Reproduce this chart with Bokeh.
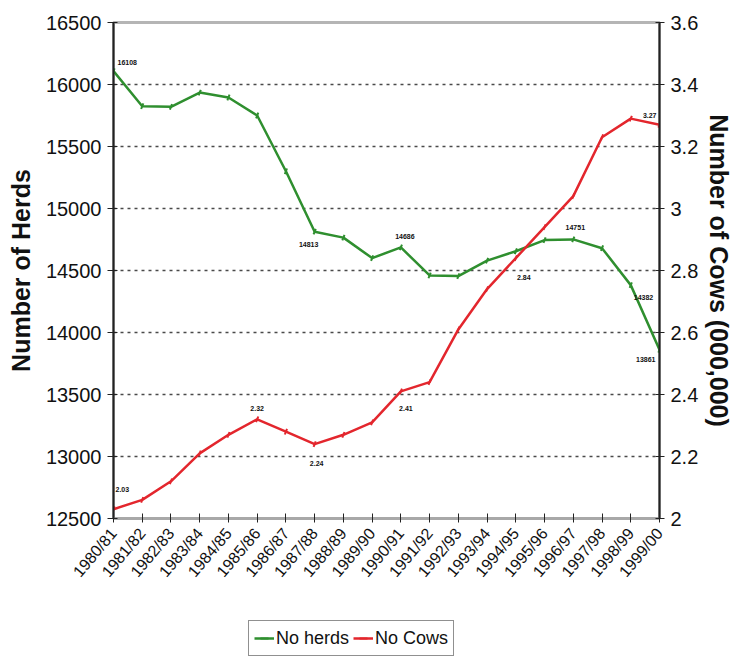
from bokeh.plotting import figure
from bokeh.layouts import column
from bokeh.models import (Range1d, LinearAxis, FixedTicker, Legend, LegendItem,
                          ColumnDataSource, Label)
from bokeh.embed import file_html
from bokeh.resources import INLINE

# Dairy herds and cow numbers by season
seasons = ["1980/81", "1981/82", "1982/83", "1983/84", "1984/85", "1985/86",
           "1986/87", "1987/88", "1988/89", "1989/90", "1990/91", "1991/92",
           "1992/93", "1993/94", "1994/95", "1995/96", "1996/97", "1997/98",
           "1998/99", "1999/00"]
herds = [16108, 15825, 15820, 15935, 15895, 15750, 15300, 14813, 14765, 14600,
         14686, 14460, 14455, 14580, 14655, 14745, 14751, 14680, 14382, 13861]
cows = [2.03, 2.06, 2.12, 2.21, 2.27, 2.32, 2.28, 2.24, 2.27, 2.31,
        2.41, 2.44, 2.61, 2.74, 2.84, 2.94, 3.04, 3.23, 3.29, 3.27]

herd_ticks = [12500, 13000, 13500, 14000, 14500, 15000, 15500, 16000, 16500]
cow_ticks = [2.0, 2.2, 2.4, 2.6, 2.8, 3.0, 3.2, 3.4, 3.6]

# seasons that carry a value label, with (x offset, y offset, align)
herd_labels = {0: (4, 9, "left"), 7: (-6, -13, "center"), 10: (4, 11, "center"),
               16: (2, 12, "center"), 18: (3, -12, "left"), 19: (-4, -10, "right")}
cow_labels = {0: (2, 20, "left"), 5: (0, 11, "center"), 7: (2, -19, "center"),
              10: (5, -17, "center"), 14: (8, -19, "center"), 19: (-3, 9, "right")}

FONT = "Liberation Sans"
GREEN = "#2f8f2f"
RED = "#e3262d"

x = list(range(len(seasons)))

p = figure(width=736, height=612, output_backend="svg", toolbar_location=None,
           x_range=Range1d(0, len(seasons) - 1), y_range=Range1d(12500, 16500),
           min_border_left=113, min_border_right=70, min_border_top=22,
           min_border_bottom=94)
p.extra_y_ranges = {"cows": Range1d(2.0, 3.6)}
p.background_fill_color = "white"
p.border_fill_color = "white"
p.outline_line_color = "#b5b5b5"
p.outline_line_width = 3

# x axis (seasons)
p.xaxis.ticker = FixedTicker(ticks=x)
p.xaxis.major_label_overrides = {i: s for i, s in enumerate(seasons)}
p.xaxis.major_label_orientation = 0.87
p.xaxis.major_label_text_font = FONT
p.xaxis.major_label_text_font_size = "16px"
p.xaxis.major_label_text_color = "#111111"
p.xaxis.axis_line_color = "#a8a8a8"
p.xaxis.axis_line_width = 3
p.xaxis.major_tick_line_color = "#222222"
p.xaxis.major_tick_in = 5
p.xaxis.major_tick_out = 4
p.xaxis.minor_tick_line_color = None
p.xaxis.major_label_standoff = 8

# left axis: herds
p.yaxis.ticker = FixedTicker(ticks=herd_ticks)
p.yaxis.axis_label = "Number of Herds"
p.yaxis.axis_label_text_font = FONT
p.yaxis.axis_label_text_font_style = "bold"
p.yaxis.axis_label_text_font_size = "25px"
p.yaxis.axis_label_text_color = "#111111"
p.yaxis.axis_label_standoff = 8
p.yaxis.major_label_text_font = FONT
p.yaxis.major_label_text_font_size = "20px"
p.yaxis.major_label_text_color = "#111111"
p.yaxis.major_label_standoff = 6
p.yaxis.axis_line_color = "#222222"
p.yaxis.axis_line_width = 2
p.yaxis.major_tick_line_color = "#222222"
p.yaxis.major_tick_in = 4
p.yaxis.major_tick_out = 6
p.yaxis.minor_tick_line_color = None

# right axis: cows
cow_axis = LinearAxis(y_range_name="cows", ticker=FixedTicker(ticks=cow_ticks),
                      axis_label="Number of Cows (000,000)")
cow_axis.major_label_overrides = {2.0: "2", 3.0: "3"}
cow_axis.axis_label_text_font = FONT
cow_axis.axis_label_text_font_style = "bold"
cow_axis.axis_label_text_font_size = "25px"
cow_axis.axis_label_text_color = "#111111"
cow_axis.axis_label_standoff = 4
cow_axis.major_label_text_font = FONT
cow_axis.major_label_text_font_size = "20px"
cow_axis.major_label_text_color = "#111111"
cow_axis.major_label_standoff = 6
cow_axis.axis_line_color = "#222222"
cow_axis.axis_line_width = 2
cow_axis.major_tick_line_color = "#222222"
cow_axis.major_tick_in = 4
cow_axis.major_tick_out = 5
cow_axis.minor_tick_line_color = None
p.add_layout(cow_axis, "right")

# dotted grid
p.xgrid.grid_line_color = None
p.ygrid.grid_line_color = "#4a4a4a"
p.ygrid.grid_line_dash = "3 4"
p.ygrid.grid_line_width = 1.5

src = ColumnDataSource(dict(x=x, herds=herds, cows=cows))

p.line("x", "herds", source=src, color=GREEN, line_width=2.5)
p.scatter("x", "herds", source=src, marker="dash", size=6,
          color=GREEN, line_width=2, angle=1.2)
p.line("x", "cows", source=src, color=RED, line_width=2.5, y_range_name="cows")
p.scatter("x", "cows", source=src, marker="dash", size=6, color=RED,
          line_width=2, angle=1.2, y_range_name="cows")

# value labels
for series, labels, rng in ((herds, herd_labels, "default"),
                            (cows, cow_labels, "cows")):
    for i, (dx, dy, align) in labels.items():
        v = series[i]
        txt = f"{v:.0f}" if rng == "default" else f"{v:.2f}"
        p.add_layout(Label(x=i, y=v, text=txt, x_offset=dx, y_offset=dy,
                           y_range_name=rng, text_font=FONT,
                           text_font_size="7px", text_font_style="bold",
                           text_color="#111111", text_align=align,
                           text_baseline="middle"))

# legend strip under the chart; its series glyphs sit outside the visible range
lf = figure(width=736, height=45, output_backend="svg", toolbar_location=None,
            x_axis_location=None, y_axis_location=None, min_border=0,
            x_range=Range1d(0, 1), y_range=Range1d(0, 1))
lf.outline_line_color = None
lf.grid.grid_line_color = None
off = ColumnDataSource(dict(x=[5, 6], y=[5, 5]))
lg_herd = lf.line("x", "y", source=off, color=GREEN, line_width=2.5)
lg_herd_pt = lf.scatter("x", "y", source=off, marker="dash", size=6,
                        color=GREEN, line_width=2, angle=1.2)
lg_cow = lf.line("x", "y", source=off, color=RED, line_width=2.5)
lg_cow_pt = lf.scatter("x", "y", source=off, marker="dash", size=6, color=RED,
                       line_width=2, angle=1.2)

legend = Legend(items=[LegendItem(label="No herds", renderers=[lg_herd, lg_herd_pt]),
                       LegendItem(label="No Cows", renderers=[lg_cow, lg_cow_pt])],
                orientation="horizontal", location=(135, 1))
legend.label_text_font = FONT
legend.label_text_font_size = "18px"
legend.label_text_color = "#111111"
legend.label_height = 24
legend.glyph_height = 24
legend.border_line_color = "#222222"
legend.border_line_width = 1.5
legend.background_fill_color = "white"
legend.padding = 5
legend.spacing = 4
legend.margin = 0
legend.glyph_width = 20
legend.label_standoff = 2
lf.add_layout(legend, "center")

open("out.html", "w").write(file_html(column(p, lf), INLINE))
